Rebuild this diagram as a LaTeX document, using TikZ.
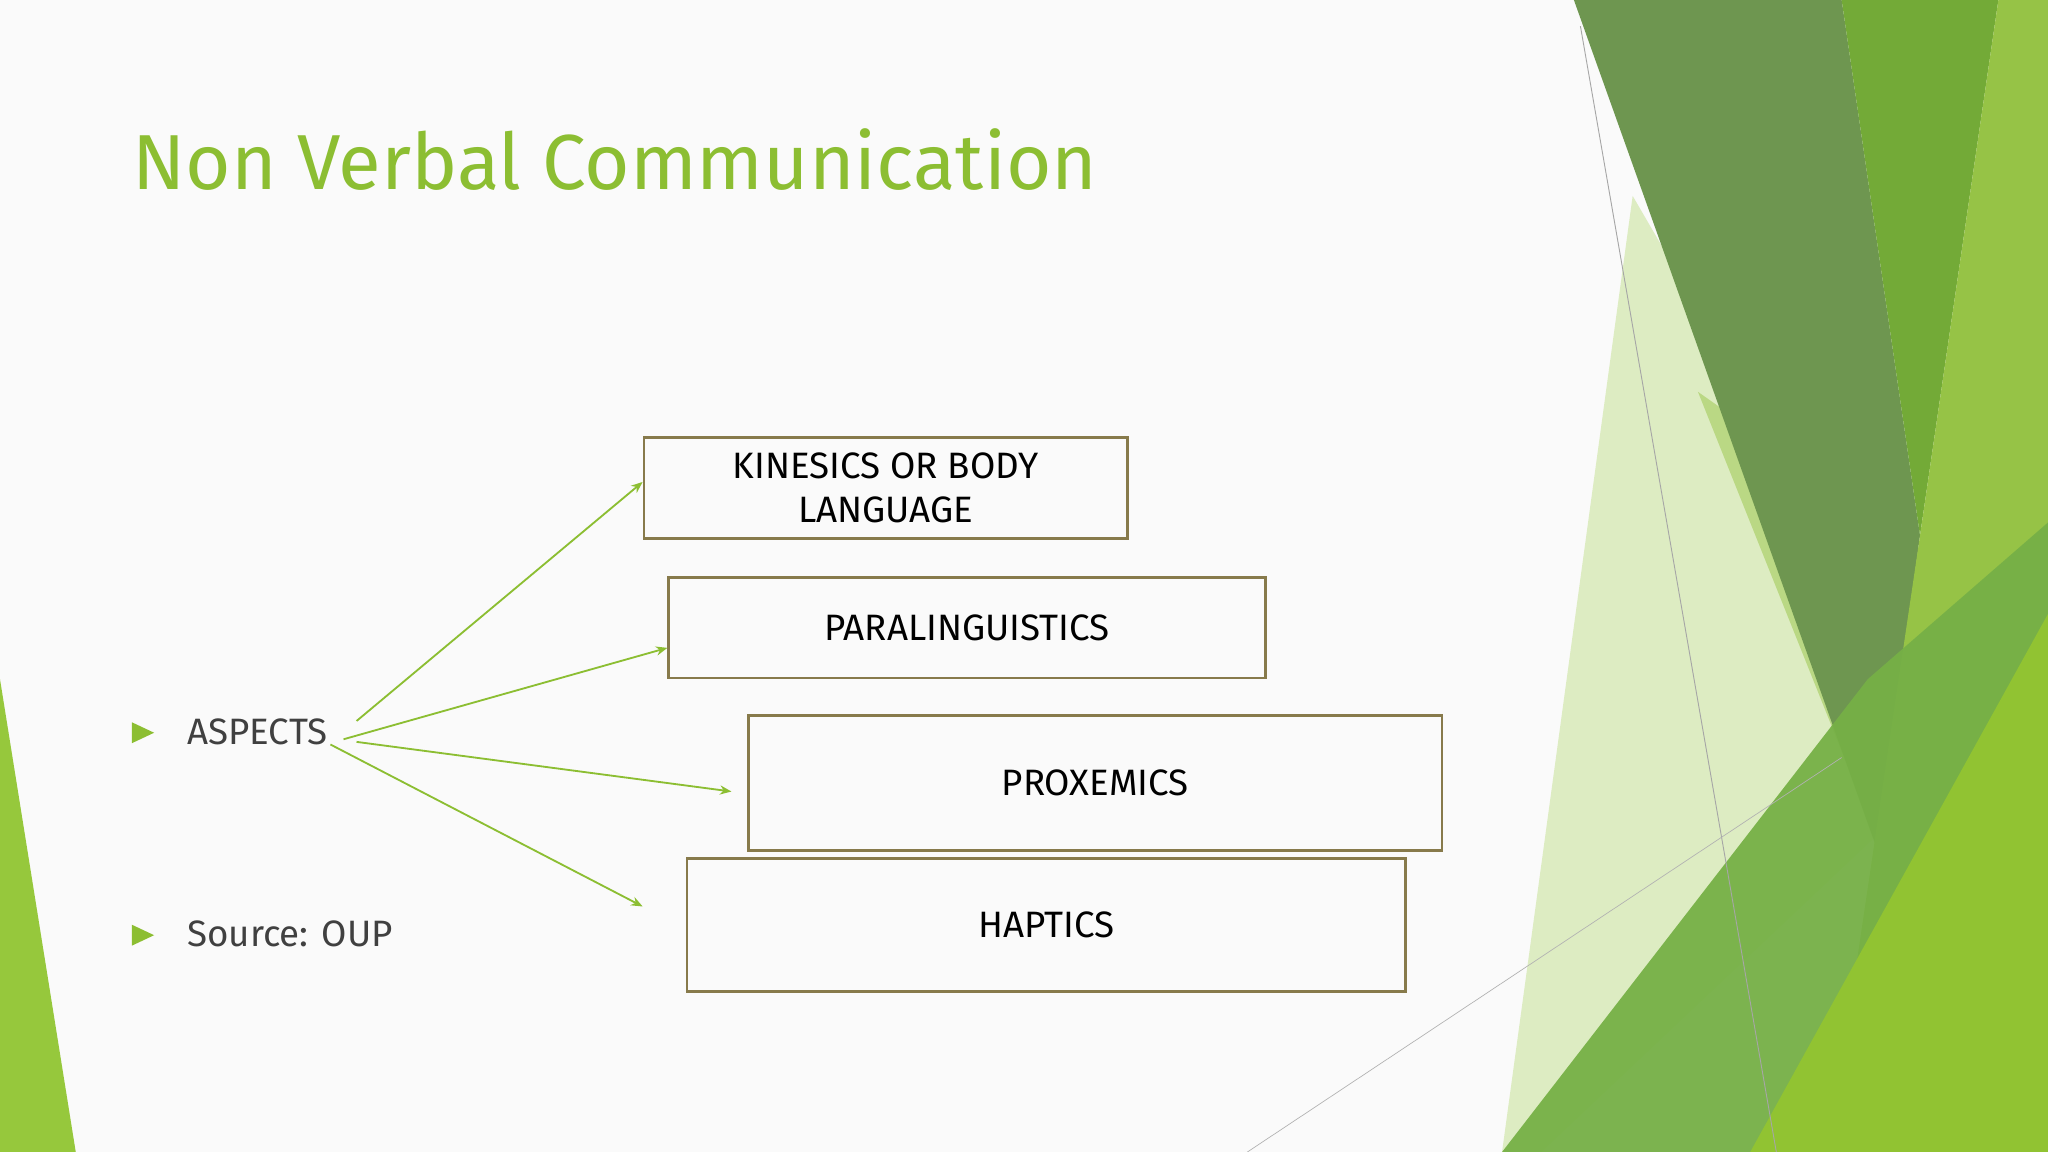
\documentclass[tikz,border=0pt]{standalone}
\usepackage{fontspec}
\setmainfont{Fira Sans}
\usetikzlibrary{arrows.meta}
\definecolor{tgreen}{RGB}{140,190,50}
\definecolor{boxc}{RGB}{135,122,75}
\definecolor{txt}{RGB}{64,64,64}
\definecolor{gA}{RGB}{110,150,80}
\definecolor{gB}{RGB}{115,170,55}
\definecolor{gC}{RGB}{150,195,70}
\definecolor{gD}{RGB}{118,176,70}
\definecolor{gE}{RGB}{145,195,50}
\definecolor{gF}{RGB}{150,200,60}
\tikzset{
 aspbox/.style={draw=boxc,line width=1.2pt,anchor=north west,inner sep=0pt,font=\fontsize{16}{19}\selectfont,align=center},
 conn/.style={draw=tgreen,line width=0.8pt,-{Stealth[length=5pt,width=4pt]}},
 bul/.style={fill=tgreen,draw=none},
}
\begin{document}
\begin{tikzpicture}[x=0.02cm,y=-0.02cm]
\useasboundingbox (0,0) rectangle (1568,882);
\fill[white!98!black] (0,0) rectangle (1568,882);
% decorations
\fill[tgreen!30] (1250,150) -- (1500,580) -- (1180,882) -- (1150,882) -- cycle;
\fill[tgreen!60] (1300,300) -- (1470,420) -- (1440,650) -- cycle;
\fill[gA] (1205,0) -- (1410,0) -- (1470,410) -- (1437,650) -- cycle;
\fill[gB] (1410,0) -- (1530,0) -- (1470,410) -- cycle;
\fill[gC] (1530,0) -- (1568,0) -- (1568,882) -- (1400,882) -- (1470,410) -- cycle;
\fill[gD,opacity=0.95] (1150,882) -- (1430,520) -- (1568,400) -- (1568,882) -- cycle;
\fill[gE] (1340,882) -- (1568,470) -- (1568,882) -- cycle;
\fill[gF] (0,520) -- (58,882) -- (0,882) -- cycle;
\draw[gray!70,line width=0.4pt] (1210,20) -- (1360,882);
\draw[gray!60,line width=0.3pt] (955,882) -- (1410,580);
% title
\node[anchor=west,text=tgreen,font=\fontsize{34}{40}\selectfont] (title) at (95,122) {Non Verbal Communication};
% bullets
\fill[bul] (101,553) -- (118,561) -- (101,569) -- cycle;
\fill[bul] (101,708) -- (118,716) -- (101,724) -- cycle;
\node[anchor=west,text=txt,font=\fontsize{16}{19}\selectfont,inner sep=0pt] (asp) at (143,560) {ASPECTS};
\node[anchor=west,text=txt,font=\fontsize{16}{19}\selectfont,inner sep=0pt] (src) at (143,715) {Source: OUP};
% boxes
\node[aspbox,minimum width=370*0.02cm,minimum height=77*0.02cm] (k) at (492,334) {KINESICS OR BODY\\LANGUAGE};
\node[aspbox,minimum width=457*0.02cm,minimum height=77*0.02cm] (p) at (511,441) {PARALINGUISTICS};
\node[aspbox,minimum width=531*0.02cm,minimum height=103*0.02cm] (x) at (572,547) {PROXEMICS};
\node[aspbox,minimum width=550*0.02cm,minimum height=102*0.02cm] (h) at (525,656) {HAPTICS};
% arrows
\coordinate (s1) at (273,552); \coordinate (e1) at (492,369);
\coordinate (s2) at (263,566); \coordinate (e2) at (511,496);
\coordinate (s3) at (273,568); \coordinate (e3) at (560,606);
\coordinate (s4) at (253,570); \coordinate (e4) at (492,694);
\draw[conn] (s1) -- (e1);
\draw[conn] (s2) -- (e2);
\draw[conn] (s3) -- (e3);
\draw[conn] (s4) -- (e4);
\end{tikzpicture}
\end{document}
